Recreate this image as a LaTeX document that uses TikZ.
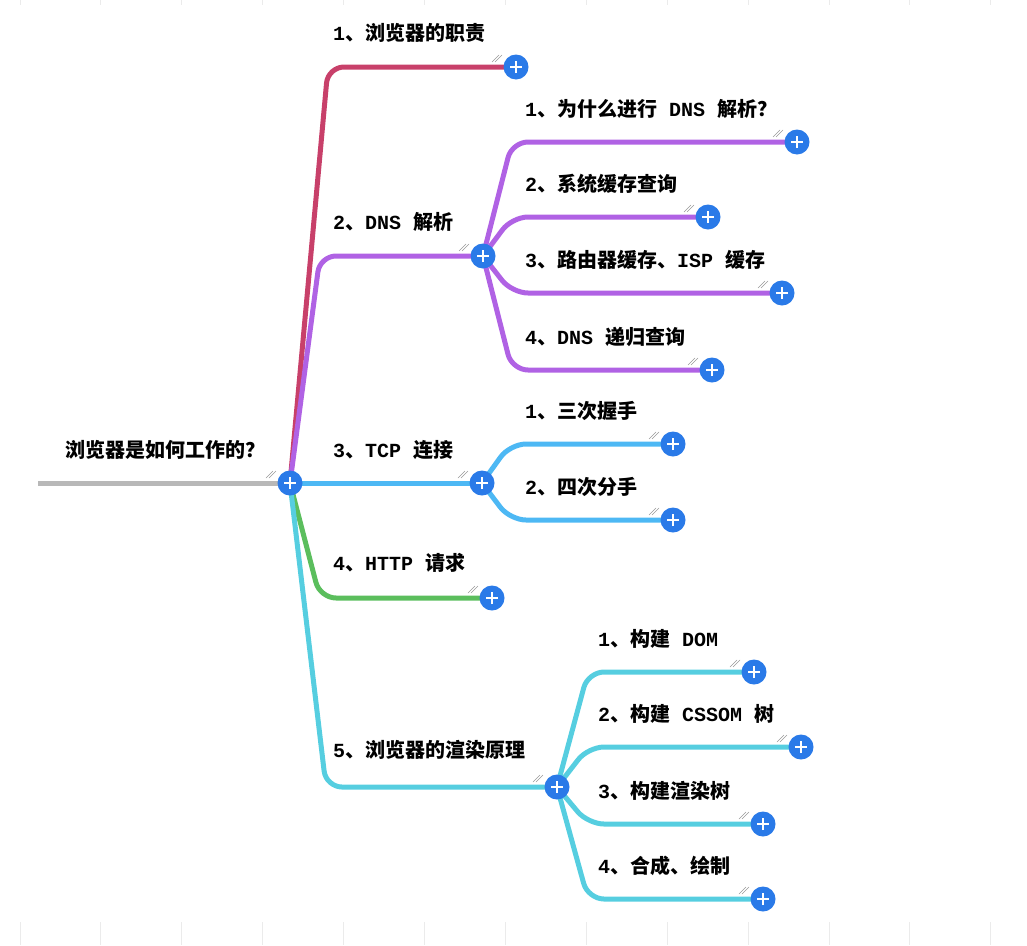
\documentclass[tikz,border=0pt]{standalone}
\usepackage{fontspec}
\setmainfont{Liberation Mono}
\newfontfamily\zhfont{Noto Sans CJK SC}
\newcommand\zh[1]{{\zhfont#1}}
\usetikzlibrary{backgrounds}
\definecolor{plusblue}{HTML}{2A7AE8}
\definecolor{mmred}{HTML}{C8406A}
\definecolor{mmpurple}{HTML}{B062E4}
\definecolor{mmblue}{HTML}{4DB8F4}
\definecolor{mmgreen}{HTML}{5BBE5D}
\definecolor{mmcyan}{HTML}{56CEE0}
\newcommand\hatch[1]{
  \draw[black!40,line width=0.6pt] ([shift={(-24,-5)}]#1.center) -- ++(7,-7)
    ([shift={(-21,-5)}]#1.center) -- ++(7,-7);
}
\tikzset{
  plus/.style={circle,fill=plusblue,minimum size=25pt,inner sep=0pt,
    path picture={\draw[white,line width=2.8pt]
      ([xshift=-6pt]path picture bounding box.center) -- ++(12pt,0)
      ([yshift=-6pt]path picture bounding box.center) -- ++(0,12pt);}},
  branch/.style={line width=5pt,rounded corners=16pt},
  lbl/.style={anchor=west,inner sep=0pt,font=\bfseries\fontsize{20}{23}\selectfont},
}

\begin{document}
\begin{tikzpicture}[x=1pt,y=-1pt]
  \useasboundingbox (0,0) rectangle (1027,945);
  \foreach \i in {0,...,12}
    \draw[black!8,line width=1pt] (20+80.9*\i,0) -- (20+80.9*\i,5) (20+80.9*\i,922) -- (20+80.9*\i,945);

  \coordinate (left) at (38,483);
  \node[plus] (root) at (290,483) {};
  \node[plus] (b1) at (516,67) {};
  \node[plus] (b2) at (483,256) {};
  \node[plus] (b3) at (482,483) {};
  \node[plus] (b4) at (492,598) {};
  \node[plus] (b5) at (557,787) {};
  \node[lbl] (title) at (65,450) {\zh{浏览器是如何工作的？}};
  \node[lbl] (l1) at (333,33) {1\zh{、浏览器的职责}};
  \node[lbl] (l2) at (333,222) {2\zh{、}DNS \zh{解析}};
  \node[lbl] (l3) at (333,450) {3\zh{、}TCP \zh{连接}};
  \node[lbl] (l4) at (333,563) {4\zh{、}HTTP \zh{请求}};
  \node[lbl] (l5) at (333,750) {5\zh{、浏览器的渲染原理}};
  \begin{scope}[on background layer]
    \draw[branch,black!28] (left) -- (root.center);
    \draw[branch,mmred] (root.center) -- (328,67) -- (b1.center);
    \draw[branch,mmpurple] (root.center) -- (320,256) -- (b2.center);
    \draw[branch,mmblue] (root.center) -- (b3.center);
    \draw[branch,mmgreen] (root.center) -- (320,598) -- (b4.center);
    \draw[branch,mmcyan] (root.center) -- (326,787) -- (b5.center);
  \end{scope}
  \foreach \n in {root,b1,b2,b3,b4,b5} {\hatch{\n}}

  \foreach \n/\y/\x/\t in {1/142/797/{1\zh{、为什么进行} DNS \zh{解析？}},
      2/217/708/{2\zh{、系统缓存查询}},
      3/293/782/{3\zh{、路由器缓存、}ISP \zh{缓存}},
      4/370/712/{4\zh{、}DNS \zh{递归查询}}} {
    \node[plus] (d\n) at (\x,\y) {};
    \node[lbl] (ld\n) at (525,\y-33) {\t};
    \begin{scope}[on background layer]
      \draw[branch,mmpurple] (b2.center) -- (512,\y) -- (d\n.center);
    \end{scope}
    \hatch{d\n}
  }
  \foreach \n/\y/\t in {1/444/{1\zh{、三次握手}}, 2/520/{2\zh{、四次分手}}} {
    \node[plus] (t\n) at (673,\y) {};
    \node[lbl] (lt\n) at (525,\y-33) {\t};
    \begin{scope}[on background layer]
      \draw[branch,mmblue] (b3.center) -- (510,\y) -- (t\n.center);
    \end{scope}
    \hatch{t\n}
  }
  \foreach \n/\y/\x/\t in {1/672/754/{1\zh{、构建} DOM},
      2/747/801/{2\zh{、构建} CSSOM \zh{树}},
      3/824/763/{3\zh{、构建渲染树}},
      4/899/763/{4\zh{、合成、绘制}}} {
    \node[plus] (r\n) at (\x,\y) {};
    \node[lbl] (lr\n) at (598,\y-33) {\t};
    \begin{scope}[on background layer]
      \draw[branch,mmcyan] (b5.center) -- (588,\y) -- (r\n.center);
    \end{scope}
    \hatch{r\n}
  }
\end{tikzpicture}
\end{document}
